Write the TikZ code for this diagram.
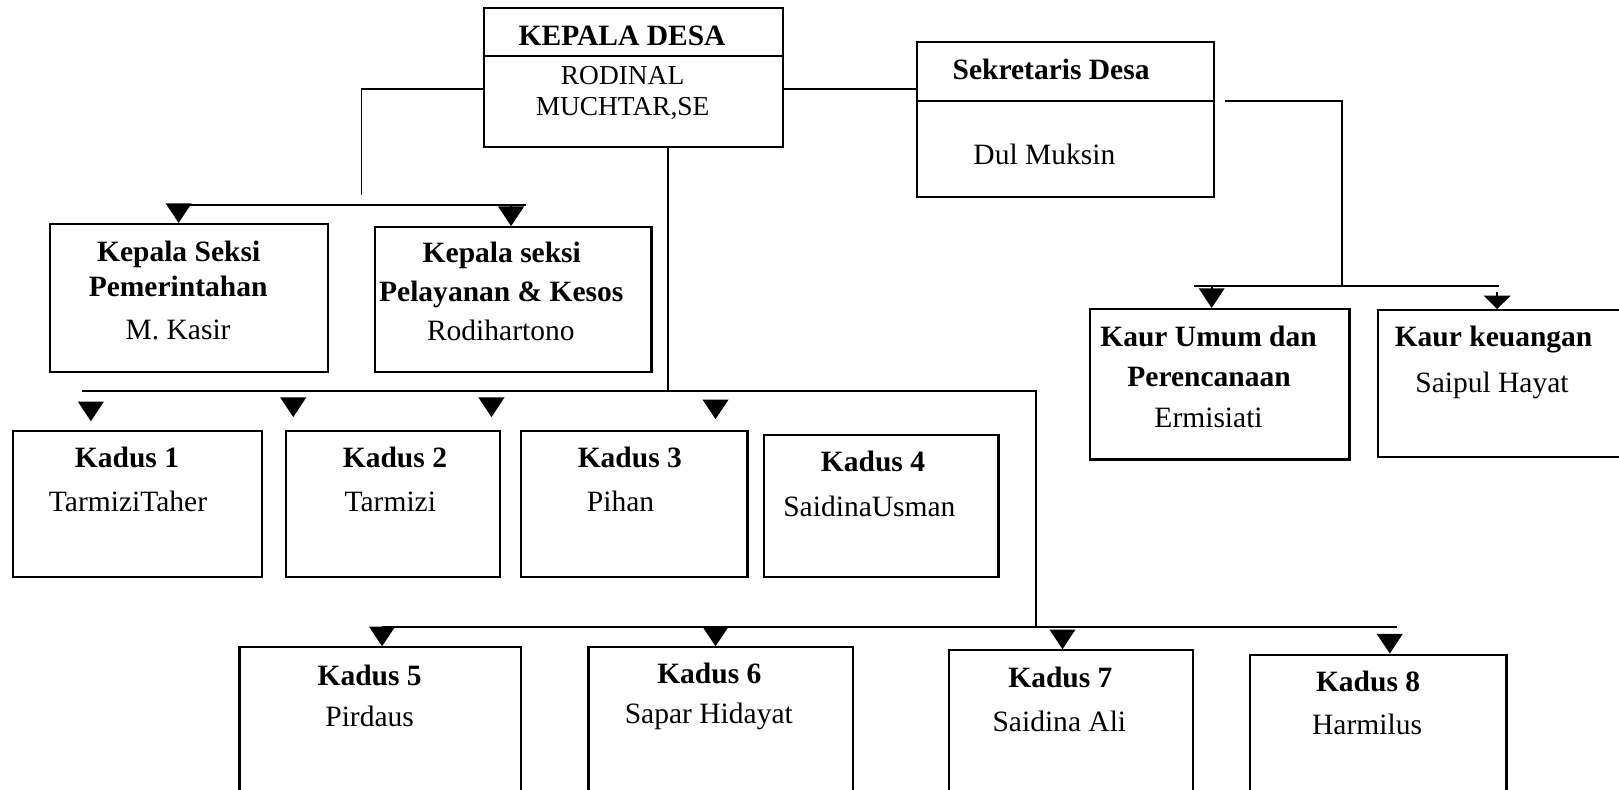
\documentclass[tikz,border=0pt]{standalone}
\usepackage{fontspec}
\setmainfont{Liberation Serif}
\usetikzlibrary{arrows.meta,fit}

\tikzset{
  kotak/.style={draw,line width=0.6pt,inner sep=0pt},
  garis/.style={line width=0.5pt},
  panah/.style={line width=0.5pt,-{Triangle[width=7.3pt,length=5.6pt]}},
  judul/.style={font=\fontsize{8.4}{10}\selectfont\bfseries,inner sep=0pt,anchor=base},
  isi/.style={font=\fontsize{8.4}{10}\selectfont,inner sep=0pt,anchor=base}
}

\begin{document}
\begin{tikzpicture}[x=0.010325cm,y=-0.010325cm]
            \useasboundingbox (0,0) rectangle (1568,765);
            \clip (0,0) rectangle (1568,765);

            \node[kotak,fit={(469,8) (758,142)}] (kd) {};
            \node[kotak,fit={(888,41) (1176,191)}] (sd) {};
            \node[kotak,fit={(48,217) (318,360)}] (ksp) {};
            \node[kotak,fit={(363,220) (631,360)}] (kspl) {};
            \node[kotak,fit={(13,417.5) (254,558.5)}] (k1) {};
            \node[kotak,fit={(277,417.5) (484,558.5)}] (k2) {};
            \node[kotak,fit={(505,417.5) (724,558.5)}] (k3) {};
            \node[kotak,fit={(740,421) (967,558.5)}] (k4) {};
            \node[kotak,fit={(232,627) (505,800)}] (k5) {};
            \node[kotak,fit={(570,627) (826,800)}] (k6) {};
            \node[kotak,fit={(919,629.8) (1155,800)}] (k7) {};
            \node[kotak,fit={(1211,634) (1459,800)}] (k8) {};
            \node[kotak,fit={(1056,299.3) (1307,445)}] (kau) {};
            \node[kotak,fit={(1335,300.3) (1600,443)}] (kak) {};

            \draw[garis] (kd.west |- 0,54) -- (kd.east |- 0,54);
            \draw[garis] (sd.west |- 0,97.5) -- (sd.east |- 0,97.5);

            \node[judul] (kd-t) at (602.5,43.6) {KEPALA DESA};
            \node[isi,font=\fontsize{7.8}{10}\selectfont] (kd-n1) at (603,81.4) {RODINAL};
            \node[isi,font=\fontsize{7.8}{10}\selectfont] (kd-n2) at (603,111.4) {MUCHTAR,SE};
            \node[judul] (sd-t) at (1018,76.8) {Sekretaris Desa};
            \node[isi] (sd-n) at (1011.5,159) {Dul Muksin};
            \node[judul] (ksp-t1) at (173,253.5) {Kepala Seksi};
            \node[judul] (ksp-t2) at (172.5,287) {Pemerintahan};
            \node[isi] (ksp-n) at (172.5,329) {M. Kasir};
            \node[judul] (kspl-t1) at (486,254) {Kepala seksi};
            \node[judul] (kspl-t2) at (485.5,292) {Pelayanan \& Kesos};
            \node[isi] (kspl-n) at (485,329.5) {Rodihartono};
            \node[judul] (kau-t1) at (1170.5,336) {Kaur Umum dan};
            \node[judul] (kau-t2) at (1171,374.5) {Perencanaan};
            \node[isi] (kau-n) at (1170.5,414) {Ermisiati};
            \node[judul] (kak-t) at (1446.5,336) {Kaur keuangan};
            \node[isi] (kak-n) at (1445,380) {Saipul Hayat};

            \foreach \i/\xa/\ya/\nama/\xb/\yb in {1/123/453/TarmiziTaher/124/495.5,
                2/382.5/453/Tarmizi/378/495.5, 3/610/453/Pihan/601/495.5,
                4/845.5/457/SaidinaUsman/842/500, 5/358/663.5/Pirdaus/358/704,
                6/687/661.5/Sapar Hidayat/686.5/701, 7/1027/666/Saidina Ali/1026/708,
                8/1325/670/Harmilus/1324/711}
            {
                \node[judul] (k\i-t) at (\xa,\ya) {Kadus \i};
                \node[isi] (k\i-n) at (\xb,\yb) {\nama};
            }

            \coordinate (kiri) at (350,189);
            \draw[garis] (kd.west |- 0,86.5) -| (kiri);
            \draw[garis] (kd.east |- 0,86.5) -- (sd.west |- 0,86.5);
            \draw[garis] (162,198.5) -- (509,198.5);
            \draw[panah] (173,198.5) -- (ksp.north -| 173,0);
            \draw[panah] (495,198.5) -- (kspl.north -| 495,0);

            \draw[garis] (kd.south -| 647,0) -- (647,379);
            \draw[garis] (79,379) -- (1003,379) -- (1003,607);
            \draw[garis] (370,607) -- (1352.6,607);
            \foreach \x/\a in {88/389,284/385,476/385,693/387}
                \draw[panah] (\x,\a) -- (\x,\a+19);
            \draw[panah] (370,607) -- (k5.north -| 370,0);
            \draw[panah] (693,607) -- (k6.north -| 693,0);
            \draw[panah] (1029,610) -- (k7.north -| 1029,0);
            \draw[panah] (1346,616) -- (k8.north -| 1346,0);

            \draw[garis] (1186,97.5) -| (1300,276.7);
            \draw[garis] (1156.6,276.7) -- (1451.6,276.7);
            \draw[panah] (1173.5,276.7) -- (kau.north -| 1173.5,0);
            \draw[line width=0.5pt,-{Triangle[width=7.6pt,length=3.8pt]}] (1450,283) -- (kak.north -| 1450,0);

        \end{tikzpicture}
\end{document}
